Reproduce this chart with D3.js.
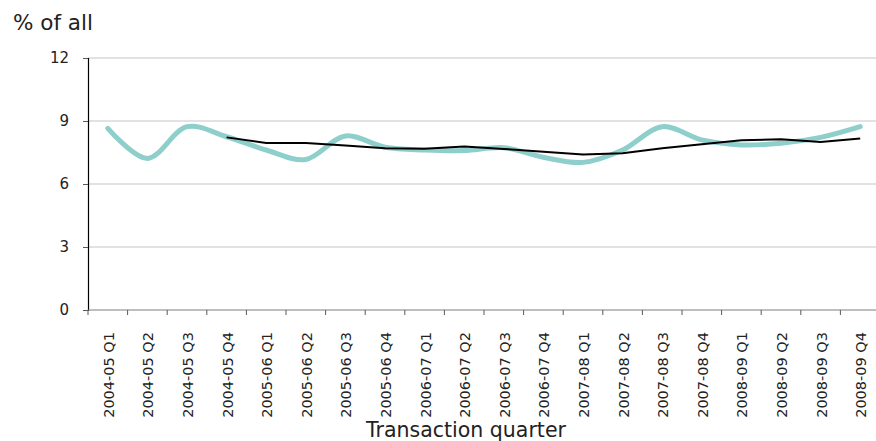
<!DOCTYPE html>
<html><head><meta charset="utf-8">
<script src="https://cdn.jsdelivr.net/npm/d3@7"></script>
<style>body{margin:0;background:#fff;} svg{display:block;font-family:"DejaVu Sans",sans-serif;}</style>
</head><body>
<svg id="c" width="876" height="441"></svg>
<script>
const categories = ["2004-05 Q1","2004-05 Q2","2004-05 Q3","2004-05 Q4","2005-06 Q1","2005-06 Q2","2005-06 Q3","2005-06 Q4","2006-07 Q1","2006-07 Q2","2006-07 Q3","2006-07 Q4","2007-08 Q1","2007-08 Q2","2007-08 Q3","2007-08 Q4","2008-09 Q1","2008-09 Q2","2008-09 Q3","2008-09 Q4"];
const quarterly = [8.65,7.22,8.73,8.25,7.62,7.17,8.29,7.75,7.62,7.59,7.73,7.27,7.03,7.62,8.73,8.10,7.86,7.94,8.22,8.73];
const rolling = [null,null,null,8.22,7.95,7.95,7.83,7.70,7.68,7.79,7.67,7.54,7.41,7.46,7.70,7.89,8.08,8.13,8.00,8.17];
const yTicks = [0,3,6,9,12];

const svg = d3.select("#c");
const x = d3.scaleBand().domain(categories).range([88,880]);
const y = d3.scaleLinear().domain([0,12]).range([310,58]);

// gridlines
svg.append("g").selectAll("line").data(yTicks.filter(d=>d>0)).join("line")
  .attr("x1",88).attr("x2",880).attr("y1",d=>y(d)).attr("y2",d=>y(d))
  .attr("stroke","#d9d9d9").attr("stroke-width",1.5);

// y axis
const yAx = svg.append("g").attr("transform","translate(88,0)")
  .call(d3.axisLeft(y).tickValues(yTicks).tickSize(5).tickPadding(14));
yAx.select(".domain").attr("stroke","#000").attr("stroke-width",1.2);
yAx.selectAll(".tick line").attr("stroke","#595959");
yAx.selectAll("text").attr("font-size",15).attr("fill","#222").style("font-family","DejaVu Sans");

// x axis
const xg = svg.append("g");
xg.append("line").attr("x1",88).attr("x2",880).attr("y1",y(0)).attr("y2",y(0)).attr("stroke","#7f7f7f").attr("stroke-width",1.2);
const edges = categories.map(c=>x(c)).concat([x.range()[1]]);
xg.selectAll("line.t").data(edges).join("line").attr("class","t")
  .attr("x1",d=>d).attr("x2",d=>d).attr("y1",y(0)).attr("y2",y(0)+5).attr("stroke","#595959");
xg.selectAll("text").data(categories).join("text")
  .attr("transform",d=>`translate(${x(d)+x.bandwidth()/2+6},332) rotate(-90)`)
  .attr("text-anchor","end").attr("font-size",14.5).attr("fill","#222").text(d=>d);

// lines
const lineQ = d3.line().x((d,i)=>x(categories[i])+x.bandwidth()/2).y(d=>y(d)).curve(d3.curveCatmullRom.alpha(0.5));
svg.append("path").datum(quarterly).attr("d",lineQ).attr("fill","none")
  .attr("stroke","#8ecfcc").attr("stroke-width",5).attr("stroke-linecap","round");
const lineR = d3.line().defined(d=>d!=null).x((d,i)=>x(categories[i])+x.bandwidth()/2).y(d=>y(d));
svg.append("path").datum(rolling).attr("d",lineR).attr("fill","none")
  .attr("stroke","#000").attr("stroke-width",2);

// titles
svg.append("text").attr("x",13).attr("y",30).attr("font-size",21.5).attr("fill","#222").text("% of all");
svg.append("text").attr("x",466).attr("y",437).attr("text-anchor","middle").attr("font-size",20.5).attr("fill","#222").text("Transaction quarter");
</script>
</body></html>
